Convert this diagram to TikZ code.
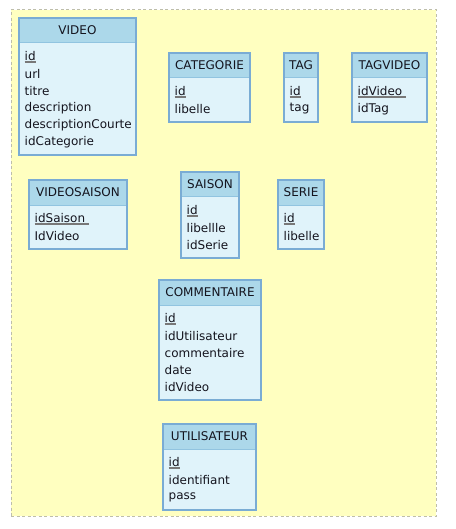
\documentclass[tikz,border=0pt]{standalone}
\usepackage{fontspec}
\setmainfont{DejaVu Sans}
\definecolor{bgyellow}{RGB}{255,255,192}
\definecolor{bgdash}{RGB}{190,190,170}
\definecolor{hdrfill}{RGB}{172,216,234}
\definecolor{bodyfill}{RGB}{224,243,250}
\definecolor{boxline}{RGB}{122,172,212}
\definecolor{sepline}{RGB}{145,196,224}
\definecolor{ulgray}{RGB}{120,120,120}
\definecolor{txt}{RGB}{20,20,30}
\newcommand\keyul[1]{\leavevmode\setbox0\hbox{#1}\rlap{\raisebox{-2.6pt}{\color{ulgray}\rule{\wd0}{1.7pt}}}\box0}
\tikzset{
  entbody/.style={rectangle, fill=bodyfill, draw=none, anchor=north west, inner sep=0pt, outer sep=0pt},
  enthead/.style={rectangle, fill=hdrfill, draw=none, anchor=north west, inner sep=0pt, outer sep=0pt, minimum height=25pt},
  entline/.style={draw=boxline, line width=2.2pt},
  entsep/.style={draw=sepline, line width=1pt},
  enttitle/.style={inner sep=0pt, font=\fontsize{12}{14}\selectfont, text=txt},
  entrow/.style={inner sep=0pt, anchor=west, font=\fontsize{12}{14}\selectfont, text=txt},
  bgbox/.style={fill=bgyellow, draw=bgdash, line width=1pt, dash pattern=on 3pt off 2.5pt}
}
% #1 name, #2 x, #3 y, #4 width, #5 title, #6 key, #7 other rows, #8 number of rows
\newcommand\entity[8]{%
  \pgfmathsetmacro\enth{35+17*#8}%
  \node[entbody, minimum width=#4pt, minimum height=\enth pt] (#1) at (#2,#3) {};
  \node[enthead, minimum width=#4pt] (#1-h) at (#1.north west) {};
  \draw[entsep] (#1-h.south west) -- (#1-h.south east);
  \draw[entline] (#1.north west) rectangle (#1.south east);
  \node[enttitle] (#1-t) at ([yshift=0.5pt]#1-h.center) {#5};
  \node[entrow] (#1-k) at ([xshift=5.5pt,yshift=-39pt]#1.north west) {\keyul{#6}};
  \foreach \r [count=\i] in {#7} {
    \node[entrow] (#1-\i) at ([xshift=5.5pt,yshift={-(39+17*\i)*1pt}]#1.north west) {\r};
  }
}
\begin{document}
\begin{tikzpicture}[x=1pt,y=-1pt]
\useasboundingbox (0,0) rectangle (455,529);
\node[bgbox, rectangle, anchor=north west, inner sep=0pt, minimum width=425pt, minimum height=506pt] (bg) at (10.5,9.5) {};
\entity{video}{19}{18}{117}{VIDEO}{id}{url,titre,description,descriptionCourte,idCategorie}{6}
\entity{categorie}{169}{53}{81}{CATEGORIE}{id}{libelle}{2}
\entity{tag}{284}{53}{34}{TAG}{id}{tag}{2}
\entity{tagvideo}{352}{53}{75}{TAGVIDEO}{idVideo\ }{idTag}{2}
\entity{videosaison}{29}{180}{98}{VIDEOSAISON}{idSaison\ }{IdVideo}{2}
\entity{saison}{181}{172}{58}{SAISON}{id}{libellle,idSerie}{3}
\entity{serie}{278}{180}{46}{SERIE}{id}{libelle}{2}
\entity{commentaire}{159}{280}{102}{COMMENTAIRE}{id}{idUtilisateur,commentaire,date,idVideo}{5}
\entity{utilisateur}{163}{424}{93}{UTILISATEUR}{id}{identifiant,pass}{3}
\end{tikzpicture}
\end{document}
